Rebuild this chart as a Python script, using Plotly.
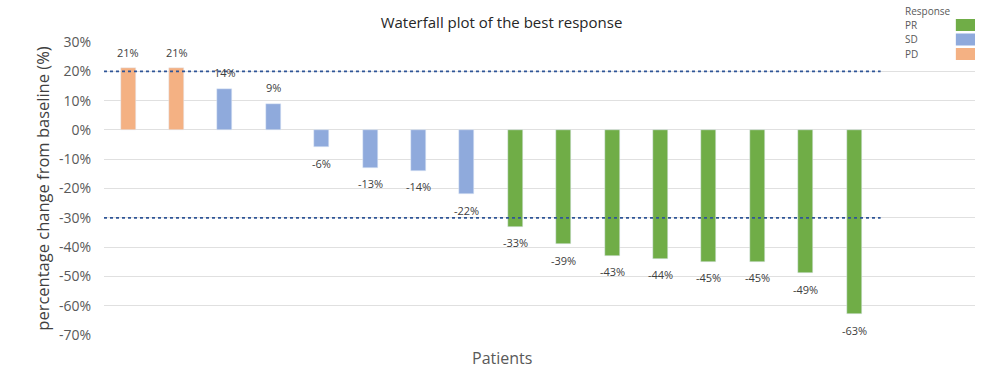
import plotly.graph_objects as go

# ---- data ----
values = [21, 21, 14, 9, -6, -13, -14, -22, -33, -39, -43, -44, -45, -45, -49, -63]
responses = ["PD", "PD", "SD", "SD", "SD", "SD", "SD", "SD",
             "PR", "PR", "PR", "PR", "PR", "PR", "PR", "PR"]
legend_order = ["PR", "SD", "PD"]
colors = {"PR": "#70AD47", "SD": "#8FAADC", "PD": "#F4B183"}
thresholds = [20, -30]
y_ticks = [30, 20, 10, 0, -10, -20, -30, -40, -50, -60, -70]
y_tick_labels = [f"{v}%" for v in y_ticks]

FONT = "Open Sans"
patients = list(range(len(values)))

fig = go.Figure()

for resp in legend_order:
    xs = [p for p, r in zip(patients, responses) if r == resp]
    ys = [v for v, r in zip(values, responses) if r == resp]
    fig.add_trace(go.Bar(x=xs, y=ys, name=resp, marker_color=colors[resp],
                         width=0.31, showlegend=False))

for t in thresholds:
    fig.add_trace(go.Scatter(x=[-0.5, len(values) - 0.45], y=[t, t], mode="lines",
                             line=dict(color="#2F5597", width=1.8, dash="dot"),
                             showlegend=False, hoverinfo="skip"))

# value labels
for p, v in zip(patients, values):
    fig.add_annotation(x=p, y=v, text=f"{v}%", showarrow=False,
                       yshift=16 if v > 0 else -16,
                       font=dict(family=FONT, size=11, color="#404040"))

# custom legend (boxes to the right of labels)
fig.add_annotation(xref="paper", yref="paper", x=0.917, y=1.0, yanchor="bottom",
                   xanchor="left", text="Response", showarrow=False, yshift=22,
                   font=dict(family=FONT, size=10, color="#595959"))
for i, resp in enumerate(legend_order):
    ypix = 25 + i * 14.5  # pixel offset from top
    yp = 1 - (ypix - 42) / 293
    fig.add_annotation(xref="paper", yref="paper", x=0.917, y=yp, xanchor="left",
                       yanchor="middle", text=resp, showarrow=False,
                       font=dict(family=FONT, size=10, color="#595959"))
    fig.add_shape(type="rect", xref="paper", yref="paper",
                  x0=0.978, x1=1.0, y0=yp - 6 / 293, y1=yp + 6 / 293,
                  fillcolor=colors[resp], line_width=0, layer="above")

fig.add_annotation(xref="paper", yref="paper", x=0.457, y=0, yanchor="top",
                   text="Patients", showarrow=False, yshift=-10,
                   font=dict(family=FONT, size=16, color="#595959"))

fig.update_layout(
    width=999, height=375,
    margin=dict(l=104, r=24, t=42, b=40),
    paper_bgcolor="white", plot_bgcolor="white",
    title=dict(text="Waterfall plot of the best response", x=0.502, xanchor="center",
               y=0.94, yanchor="middle",
               font=dict(family=FONT, size=15, color="#262626")),
    bargap=0,
    xaxis=dict(range=[-0.5, 17.5], showticklabels=False, showgrid=False,
               zeroline=False, showline=False),
    yaxis=dict(range=[-70, 30], tickvals=y_ticks, ticktext=y_tick_labels,
               ticks="outside", ticklen=9, tickcolor="rgba(0,0,0,0)",
               gridcolor="#E0E0E0", zeroline=True, zerolinecolor="#E0E0E0",
               zerolinewidth=1, showline=False,
               tickfont=dict(family=FONT, size=14, color="#595959"),
               title=dict(text="percentage change from baseline (%)", standoff=5,
                          font=dict(family=FONT, size=16.5, color="#404040"))),
)

fig.write_html("out.html", post_script="document.body.style.margin='0';",
               config={"displayModeBar": False})
